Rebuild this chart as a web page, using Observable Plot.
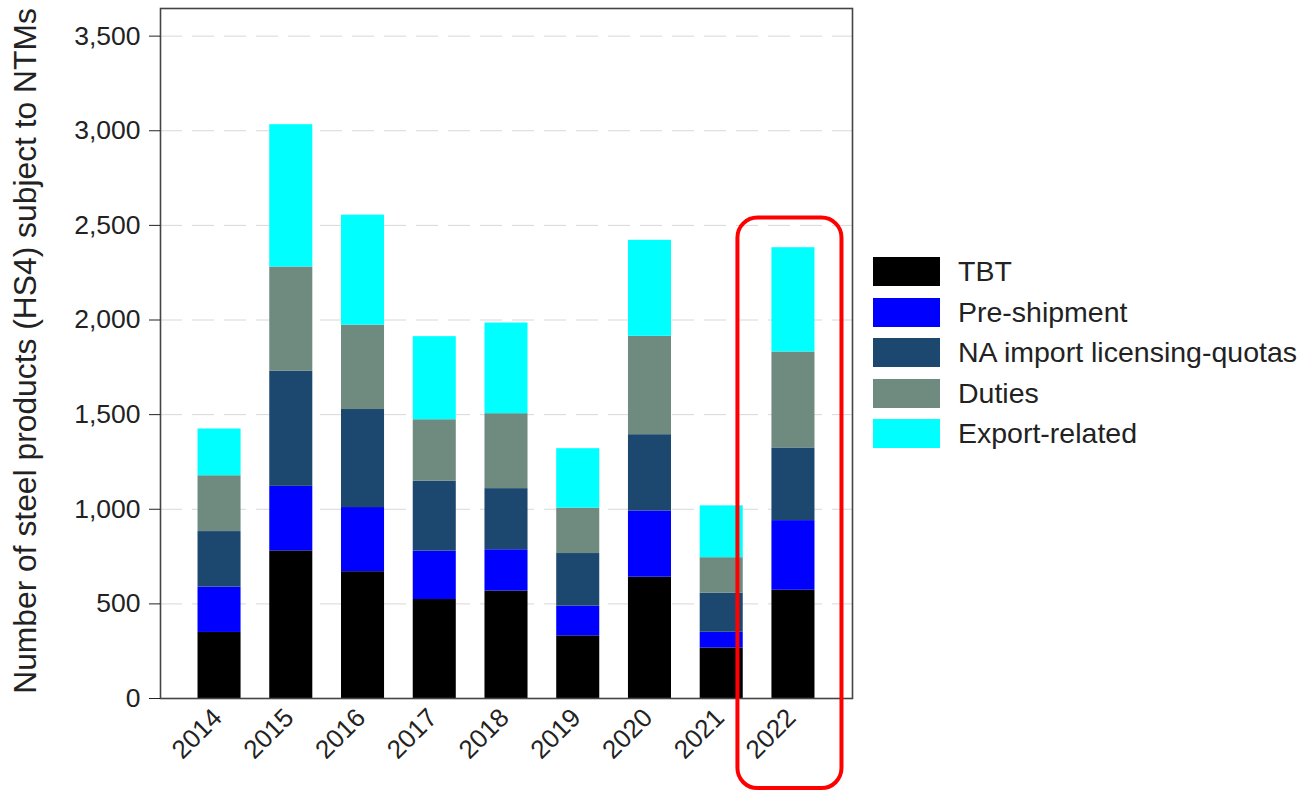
<!DOCTYPE html>
<html>
<head>
<meta charset="utf-8">
<script src="https://cdn.jsdelivr.net/npm/d3@7"></script>
<script src="https://cdn.jsdelivr.net/npm/@observablehq/plot@0.6"></script>
<style>
  html, body { margin: 0; padding: 0; background: #fff; }
  #wrap { position: relative; width: 1306px; height: 792px; font-family: "Liberation Sans", Arial, sans-serif; }
  #legend { position: absolute; left: 873px; top: 257px; }
  .row { display: flex; align-items: center; height: 29px; margin-bottom: 11.5px; }
  .sw { width: 67px; height: 29px; margin-right: 18px; }
  .lab { font-size: 28.5px; color: #222; line-height: 29px; white-space: nowrap; }
  #ylab { position: absolute; left: 26px; top: 351px; transform: translate(-50%, -50%) rotate(-90deg);
          font-size: 31.8px; line-height: 1; color: #222; white-space: nowrap; }
</style>
</head>
<body>
<div id="wrap"><div id="ylab"></div><div id="legend"></div></div>
<script>
const years = ["2014","2015","2016","2017","2018","2019","2020","2021","2022"];
const categories = ["TBT","Pre-shipment","NA import licensing-quotas","Duties","Export-related"];
const colors = ["#000000","#0000ff","#1c4870","#6f8b80","#00ffff"];

const tbt         = [349, 780, 670, 523, 568, 331, 641, 267, 572];
const preShipment = [240, 341, 339, 256, 218, 157, 350,  83, 368];
const naLicensing = [293, 608, 518, 369, 323, 278, 403, 206, 384];
const duties      = [295, 551, 446, 325, 396, 240, 520, 188, 507];
const exportRel   = [247, 752, 581, 439, 479, 314, 507, 274, 551];

const yTicks = [0, 500, 1000, 1500, 2000, 2500, 3000, 3500];
const yLabel = "Number of steel products (HS4) subject to NTMs";
const highlight = [{year: "2022", from: -476, to: 2539}];

const series = [tbt, preShipment, naLicensing, duties, exportRel];
const data = [];
years.forEach((yr, i) => {
  categories.forEach((c, j) => data.push({year: yr, category: c, value: series[j][i]}));
});

const chart = Plot.plot({
  width: 1306,
  height: 792,
  marginLeft: 160,
  marginRight: 454,
  marginTop: 8,
  marginBottom: 94,
  style: {fontFamily: "'Liberation Sans', Arial, sans-serif", color: "#222", background: "#fff"},
  x: {domain: years, paddingInner: 0.4, paddingOuter: 0.523, align: 0.5, round: false},
  y: {domain: [0, 3646]},
  color: {domain: categories, range: colors},
  marks: [
    Plot.gridY(yTicks.filter(d => d > 0), {stroke: "#d8d8d8", strokeOpacity: 1, strokeDasharray: "22,10", strokeWidth: 1}),
    Plot.barY(data, {x: "year", y: "value", fill: "category", order: categories}),
    Plot.frame({stroke: "#444", strokeWidth: 1.6}),
    Plot.axisY({ticks: yTicks, tickFormat: d3.format(","), tickSize: 11, tickPadding: 9, fontSize: 26.5, label: null}),
    Plot.axisX({tickSize: 0, tickPadding: 15, tickRotate: -45, fontSize: 26, dx: -2, label: null}),
    Plot.barY(highlight, {x: "year", y1: "from", y2: "to", fill: "none", stroke: "#ff0000", strokeWidth: 4, rx: 20, insetLeft: -34, insetRight: -27})
  ]
});
document.getElementById("wrap").prepend(chart);
document.getElementById("ylab").textContent = yLabel;

const legend = document.getElementById("legend");
categories.forEach((c, j) => {
  const row = document.createElement("div");
  row.className = "row";
  row.innerHTML = `<div class="sw" style="background:${colors[j]}"></div><div class="lab">${c}</div>`;
  legend.appendChild(row);
});
</script>
</body>
</html>
